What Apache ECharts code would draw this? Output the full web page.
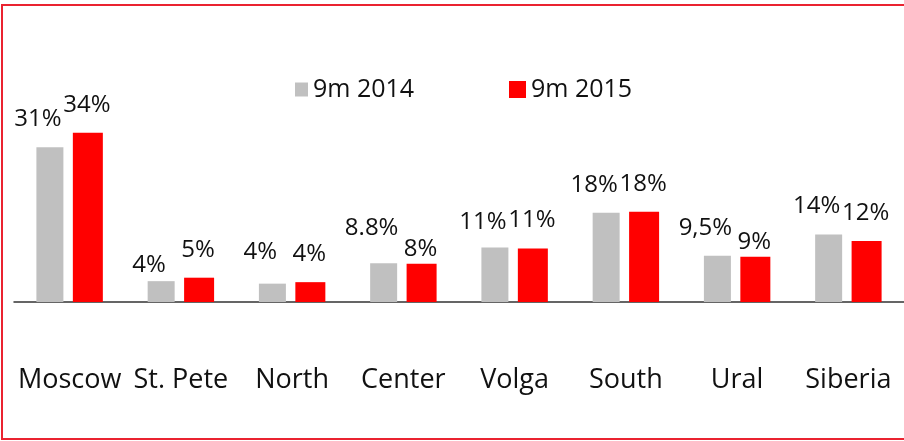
<!DOCTYPE html>
<html>
<head>
<meta charset="utf-8">
<title>Regions 9m 2014 / 9m 2015</title>
<script src="https://cdn.jsdelivr.net/npm/echarts@6/dist/echarts.min.js"></script>
<style>
  html, body { margin: 0; padding: 0; background: #fff; overflow: hidden; }
  #chart { position: absolute; left: 0; top: 0; width: 904px; height: 441px; }
  /* red frame, no right edge (it is cut off in the source) */
  #frame {
    position: absolute; left: 1px; top: 4px; width: 903px; height: 436px;
    box-sizing: border-box; border: 2px solid #ea2330; border-right: none;
    pointer-events: none;
  }
</style>
</head>
<body>
<div id="chart"></div>
<div id="frame"></div>
<script>
// categories
const regions = ['Moscow', 'St. Pete', 'North', 'Center', 'Volga', 'South', 'Ural', 'Siberia']

// bar heights (% share)
const values2014 = [31.2, 4.2, 3.7, 7.8, 11.0, 18.0, 9.3, 13.6]
const values2015 = [34.1, 4.9, 4.0, 7.7, 10.8, 18.2, 9.1, 12.3]

// printed labels (as written in the source)
const labels2014 = ['31%', '4%', '4%', '8.8%', '11%', '18%', '9,5%', '14%']
const labels2015 = ['34%', '5%', '4%', '8%', '11%', '18%', '9%', '12%']

// vertical nudge of some labels
const shift2014 = [0, 12, -3, -7, 3, 0, 0, 0]
const shift2015 = [0, 0, 0, 13, 0, 0, 13, 0]

const FONT = '"Open Sans", "Noto Sans", sans-serif'
const GREY = '#c0c0c0'
const RED = '#ff0000'

const chart = echarts.init(document.getElementById('chart'))

chart.setOption({
  animation: false,
  textStyle: { fontFamily: FONT },
  /* two legends so the squares can have different sizes */
  legend: [
    {
      data: ['9m 2014'],
      left: 290,
      top: 72,
      icon: 'rect',
      itemWidth: 13,
      itemHeight: 14,
      textStyle: { fontSize: 25, color: '#111', fontFamily: FONT }
    },
    {
      data: ['9m 2015'],
      left: 504,
      top: 72,
      icon: 'rect',
      itemWidth: 17,
      itemHeight: 17,
      textStyle: { fontSize: 25, color: '#111', fontFamily: FONT }
    }
  ],
  grid: { left: 14, top: 54, width: 900, bottom: 139 },
  xAxis: {
    type: 'category',
    data: regions,
    axisLine: { lineStyle: { color: '#333', width: 1.5 } },
    axisTick: { show: false },
    axisLabel: { fontSize: 27, color: '#111', margin: 65, fontFamily: FONT, interval: 0 }
  },
  yAxis: {
    type: 'value',
    min: 0,
    max: 50,
    show: false,
    splitLine: { show: false }
  },
  series: [
    {
      name: '9m 2014',
      type: 'bar',
      barWidth: 27,
      barGap: '35%',
      itemStyle: { color: GREY },
      label: {
        show: true,
        position: 'top',
        distance: 16,
        fontSize: 24,
        color: '#111',
        fontFamily: FONT,
        formatter: p => labels2014[p.dataIndex]
      },
      data: values2014.map((v, i) => ({ value: v, label: { offset: [-12, shift2014[i]] } }))
    },
    {
      name: '9m 2015',
      type: 'bar',
      barWidth: 30,
      itemStyle: { color: RED },
      label: {
        show: true,
        position: 'top',
        distance: 16,
        fontSize: 24,
        color: '#111',
        fontFamily: FONT,
        formatter: p => labels2015[p.dataIndex]
      },
      data: values2015.map((v, i) => ({ value: v, label: { offset: [-1, shift2015[i]] } }))
    }
  ]
})
</script>
</body>
</html>
